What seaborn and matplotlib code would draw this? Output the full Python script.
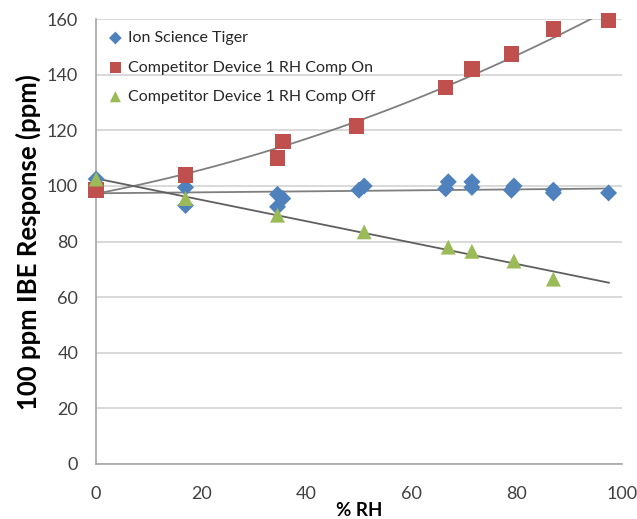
import matplotlib
matplotlib.use("Agg")
import matplotlib.pyplot as plt
import seaborn as sns
import pandas as pd

# Ion Science Tiger
rh_tiger = [0, 17, 17, 34.5, 34.5, 35.5, 50, 51, 66.5, 67, 71.5, 71.5, 79, 79.5, 87, 87, 97.5]
tiger = [102.5, 99.5, 93, 97, 92.5, 95.5, 98.5, 100, 99, 101.5, 99.5, 101.5, 98.5, 100, 97.5, 98.5, 97.5]

# Competitor Device 1 RH Comp On
rh_on = [0, 17, 34.5, 35.5, 49.5, 66.5, 71.5, 79, 87, 97.5]
comp_on = [98.5, 104, 110, 116, 121.5, 135.5, 142, 147.5, 156.5, 159.5]

# Competitor Device 1 RH Comp Off
rh_off = [0, 17, 34.5, 51, 67, 71.5, 79.5, 87]
comp_off = [102.5, 95.5, 89.5, 83.5, 78, 76.5, 73, 66.5]

names = ["Ion Science Tiger", "Competitor Device 1 RH Comp On", "Competitor Device 1 RH Comp Off"]
colors = ["#4F81BD", "#C0504D", "#9BBB59"]
markers = ["D", "s", "^"]
sizes = [75, 125, 115]

sns.set_theme(style="white")
plt.rcParams["font.family"] = ["Lato", "DejaVu Sans"]

fig = plt.figure(figsize=(6.37, 5.19), dpi=100)
ax = fig.add_axes([0.151, 0.106, 0.825, 0.857])
ax.set_xlim(0, 100)
ax.set_ylim(0, 160)

# trend lines (Excel-like), drawn out to the last reading
ax.set_xlim(0, 97.6)
sns.regplot(x=rh_tiger, y=tiger, ax=ax, scatter=False, ci=None, truncate=False,
            line_kws=dict(color="#7f7f7f", lw=1.3, zorder=2))
sns.regplot(x=rh_on, y=comp_on, ax=ax, scatter=False, ci=None, order=2, truncate=False,
            line_kws=dict(color="#7f7f7f", lw=1.3, zorder=2))
sns.regplot(x=rh_off, y=comp_off, ax=ax, scatter=False, ci=None, truncate=False,
            line_kws=dict(color="#5f5f5f", lw=1.3, zorder=2))
ax.set_xlim(0, 100)

series = [(rh_tiger, tiger), (rh_on, comp_on), (rh_off, comp_off)]
for (xs, ys), name, c, m, s in zip(series, names, colors, markers, sizes):
    sns.scatterplot(x=xs, y=ys, ax=ax, color=c, marker=m, s=s, edgecolor="none",
                    label=name, zorder=3, clip_on=False)

ax.set_yticks(range(0, 161, 20))
ax.set_xticks(range(0, 101, 20))
ax.grid(axis="y", color="#d9d9d9", lw=1.4)
ax.set_axisbelow(True)
for side in ["top", "right"]:
    ax.spines[side].set_visible(False)
for side in ["left", "bottom"]:
    ax.spines[side].set_color("#a6a6a6")
    ax.spines[side].set_linewidth(1.2)
ax.tick_params(axis="both", which="major", direction="out", length=5, width=1,
               color="#a6a6a6", labelsize=13, labelcolor="#404040", pad=4)
ax.tick_params(axis="y", pad=8)
ax.tick_params(axis="x", pad=11)

ax.set_ylabel("100 ppm IBE Response (ppm)", fontsize=18.5, fontweight="bold", color="black", labelpad=4)
ax.set_xlabel("% RH", fontsize=13.5, fontweight="bold", color="black", labelpad=0)

leg = ax.legend(loc="upper left", frameon=False, fontsize=11.5, handletextpad=0.2,
                handlelength=1.2, borderaxespad=0.2, labelspacing=0.95, markerscale=0.75,
                bbox_to_anchor=(0.0, 0.995))
for t in leg.get_texts():
    t.set_color("#262626")

fig.savefig("out.png", dpi=100)
